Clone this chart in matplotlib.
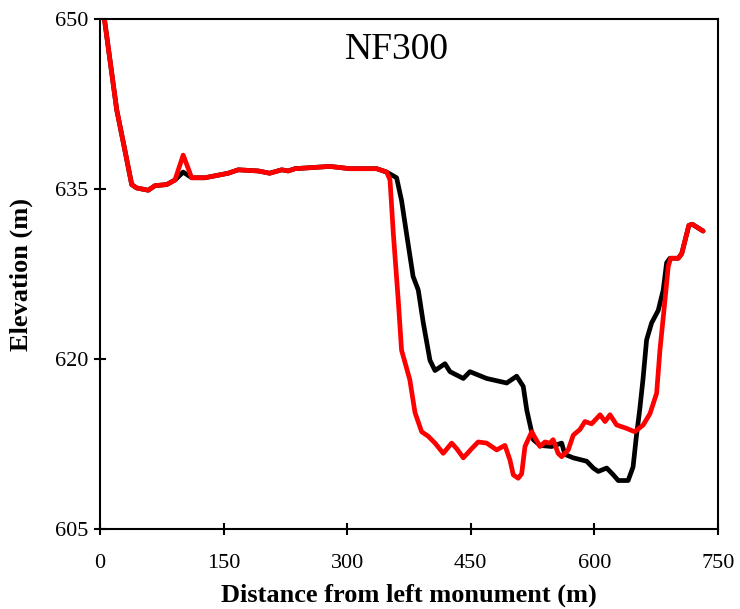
import numpy as np
import matplotlib.pyplot as plt

# perfil NF300: distancia (m) y elevacion (m)
shared_x = [5, 20.3, 30.3, 38.5, 44.5, 58.6, 66.7, 81, 91]
shared_y = [650.2, 642.0, 638.4, 635.4, 635.1, 634.9, 635.3, 635.4, 635.8]

flat_x = [111.3, 127.4, 155.7, 167.8, 192, 206, 220.5, 228.5, 236.7, 279, 303.4, 335.8, 348]
flat_y = [636.0, 636.0, 636.4, 636.7, 636.6, 636.4, 636.7, 636.6, 636.8, 637.0, 636.8, 636.8, 636.5]

end_x = [701.8, 706, 714.7, 718.8, 732]
end_y = [628.9, 629.3, 631.8, 631.9, 631.3]

black_mid_x = [360, 366, 372, 380, 386.3, 392.4, 400.5, 406.6, 418.7, 424.8, 441, 449,
               469.3, 493.6, 505.7, 513.7, 518, 526, 534, 548, 560.3, 564.3, 574.4,
               590.7, 598.7, 604.7, 615, 623, 629, 641, 647, 651, 655, 659, 663.4,
               669.5, 677.5, 683.6, 687.7, 691.7]
black_mid_y = [636.0, 634.0, 631.1, 627.3, 626.1, 623.2, 619.9, 619.0, 619.6, 618.9, 618.3, 618.9,
               618.3, 617.9, 618.5, 617.6, 615.5, 612.9, 612.4, 612.3, 612.6, 611.6, 611.3,
               611.0, 610.4, 610.1, 610.4, 609.8, 609.3, 609.3, 610.5, 613.2, 615.5, 618.2, 621.7,
               623.2, 624.3, 626.1, 628.5, 628.9]

red_mid_x = [352, 356, 362, 366, 376, 382.3, 390.4, 398.4, 406.6, 416.6, 426.8, 433, 441,
             451, 459, 469.3, 481.4, 491.5, 497.6, 501.6, 507.6, 511.8, 515.8, 524, 534,
             540, 546, 550, 556, 560.3, 568.3, 574.4, 582.5, 588.6, 596.7, 607, 613, 619,
             627, 639, 649, 659.3, 667.5, 675.6, 679.6, 685.7, 689.7, 692.6]
red_mid_y = [635.8, 631.1, 625.2, 620.8, 618.2, 615.3, 613.6, 613.2, 612.6, 611.7, 612.6, 612.1, 611.3,
             612.1, 612.7, 612.6, 612.0, 612.4, 611.1, 609.8, 609.5, 609.9, 612.3, 613.6, 612.3,
             612.7, 612.6, 612.9, 611.7, 611.4, 612.0, 613.3, 613.8, 614.5, 614.3, 615.1, 614.5, 615.1,
             614.2, 613.9, 613.6, 614.2, 615.2, 617.0, 620.8, 625.2, 628.2, 628.9]

black_x = shared_x + [101] + flat_x + black_mid_x + end_x
black_y = shared_y + [636.5] + flat_y + black_mid_y + end_y
red_x = shared_x + [101] + flat_x + red_mid_x + end_x
red_y = shared_y + [638.0] + flat_y + red_mid_y + end_y

plt.rcParams['font.family'] = ['Liberation Serif', 'DejaVu Serif']

fig = plt.figure(figsize=(7.4, 6.09), dpi=100)
ax = fig.add_axes([0.1351, 0.1309, 0.8351, 0.8379])

ax.plot(black_x, black_y, color='black', lw=3.4, solid_joinstyle='round', solid_capstyle='round')
ax.plot(red_x, red_y, color='#FF0000', lw=3.4, solid_joinstyle='round', solid_capstyle='round')

ax.set_xlim(0, 750)
ax.set_ylim(605, 650)
ax.set_xticks(np.arange(0, 751, 150))
ax.set_yticks(np.arange(605, 651, 15))
for s in ax.spines.values():
    s.set_linewidth(1.5)
ax.tick_params(direction='inout', length=9, width=1.5, labelsize=16)
ax.tick_params(axis='x', pad=13)
ax.tick_params(axis='y', pad=4)

ax.set_xlabel('Distance from left monument (m)', fontsize=19, fontweight='bold', labelpad=8)
ax.set_ylabel('Elevation (m)', fontsize=19, fontweight='bold', labelpad=16)
ax.text(0.48, 0.94, 'NF300', transform=ax.transAxes, fontsize=27, ha='center', va='center')

fig.savefig('out.png', dpi=100)
